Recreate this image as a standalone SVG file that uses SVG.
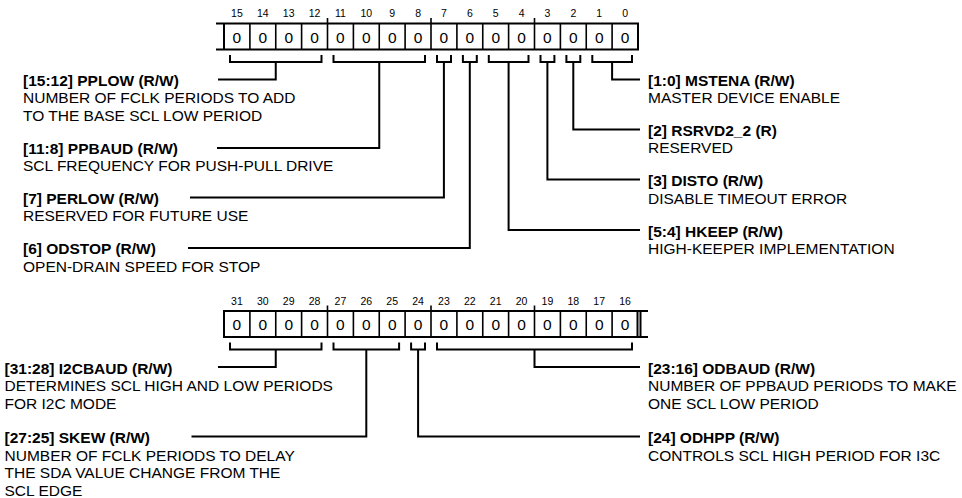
<svg xmlns="http://www.w3.org/2000/svg" width="962" height="498" viewBox="0 0 962 498">
<style>
text{font-family:"Liberation Sans",Arial,sans-serif;fill:#000}
.t{font-size:15.5px;font-weight:bold}
.d{font-size:15.5px}
.n{font-size:10.5px;text-anchor:middle}
.v{font-size:15.5px;text-anchor:middle}
.box{fill:none;stroke:#000;stroke-width:2}
.div{fill:none;stroke:#000;stroke-width:1.6}
.c{fill:none;stroke:#000;stroke-width:2}
</style>
<rect width="962" height="498" fill="#fff"/>

<g id="reg15_0">
<path class="box" d="M216,23.5H638V49.5H216M224,23.5V49.5M638,23.5V49.5"/>
<path class="div" d="M249.9,23.5V49.5M275.75,23.5V49.5M301.6,23.5V49.5M327.5,18V49.5M353.4,23.5V49.5M379.25,23.5V49.5M405.1,23.5V49.5M431,18V49.5M456.9,23.5V49.5M482.75,23.5V49.5M508.6,23.5V49.5M534.5,18V49.5M560.4,23.5V49.5M586.25,23.5V49.5M612.1,23.5V49.5"/>
<g class="n">
<text x="236.9" y="17">15</text><text x="262.8" y="17">14</text><text x="288.7" y="17">13</text><text x="314.6" y="17">12</text>
<text x="340.4" y="17">11</text><text x="366.3" y="17">10</text><text x="392.2" y="17">9</text><text x="418.1" y="17">8</text>
<text x="443.9" y="17">7</text><text x="469.8" y="17">6</text><text x="495.7" y="17">5</text><text x="521.6" y="17">4</text>
<text x="547.4" y="17">3</text><text x="573.3" y="17">2</text><text x="599.2" y="17">1</text><text x="625.1" y="17">0</text>
</g>
<g class="v">
<text x="236.9" y="42.5">0</text><text x="262.8" y="42.5">0</text><text x="288.7" y="42.5">0</text><text x="314.6" y="42.5">0</text>
<text x="340.4" y="42.5">0</text><text x="366.3" y="42.5">0</text><text x="392.2" y="42.5">0</text><text x="418.1" y="42.5">0</text>
<text x="443.9" y="42.5">0</text><text x="469.8" y="42.5">0</text><text x="495.7" y="42.5">0</text><text x="521.6" y="42.5">0</text>
<text x="547.4" y="42.5">0</text><text x="573.3" y="42.5">0</text><text x="599.2" y="42.5">0</text><text x="625.1" y="42.5">0</text>
</g>
</g>

<g id="reg31_16">
<path class="box" d="M648,311H224V337H648M224,311V337M637.5,311V337M640.5,311V337"/>
<path class="div" d="M249.9,311V337M275.75,311V337M301.6,311V337M327.5,305.5V337M353.4,311V337M379.25,311V337M405.1,311V337M431,305.5V337M456.9,311V337M482.75,311V337M508.6,311V337M534.5,305.5V337M560.4,311V337M586.25,311V337M612.1,311V337"/>
<g class="n">
<text x="236.9" y="304.5">31</text><text x="262.8" y="304.5">30</text><text x="288.7" y="304.5">29</text><text x="314.6" y="304.5">28</text>
<text x="340.4" y="304.5">27</text><text x="366.3" y="304.5">26</text><text x="392.2" y="304.5">25</text><text x="418.1" y="304.5">24</text>
<text x="443.9" y="304.5">23</text><text x="469.8" y="304.5">22</text><text x="495.7" y="304.5">21</text><text x="521.6" y="304.5">20</text>
<text x="547.4" y="304.5">19</text><text x="573.3" y="304.5">18</text><text x="599.2" y="304.5">17</text><text x="625.1" y="304.5">16</text>
</g>
<g class="v">
<text x="236.9" y="330">0</text><text x="262.8" y="330">0</text><text x="288.7" y="330">0</text><text x="314.6" y="330">0</text>
<text x="340.4" y="330">0</text><text x="366.3" y="330">0</text><text x="392.2" y="330">0</text><text x="418.1" y="330">0</text>
<text x="443.9" y="330">0</text><text x="469.8" y="330">0</text><text x="495.7" y="330">0</text><text x="521.6" y="330">0</text>
<text x="547.4" y="330">0</text><text x="573.3" y="330">0</text><text x="599.2" y="330">0</text><text x="625.1" y="330">0</text>
</g>
</g>

<g id="connectors">
<path class="c" d="M230,55V62H321.5V55M275.75,62V79.5H218"/>
<path class="c" d="M333.5,55V62H425V55M379.25,62V148H217"/>
<path class="c" d="M437,55V62H451V55M443.9,62V197.5H190"/>
<path class="c" d="M462.9,55V62H476.8V55M469.8,62V248H188"/>
<path class="c" d="M488.8,55V62H528.5V55M508.6,62V230H640"/>
<path class="c" d="M540.5,55V62H554.4V55M547.4,62V179.5H640"/>
<path class="c" d="M566.4,55V62H580.3V55M573.3,62V129.5H640"/>
<path class="c" d="M592.3,55V62H632V55M612.1,62V79.5H640"/>
<path class="c" d="M230,342.5V349.5H321.5V342.5M275.75,349.5V367H218"/>
<path class="c" d="M333.5,342.5V349.5H399.1V342.5M366.3,349.5V436.5H191.5"/>
<path class="c" d="M411.1,342.5V349.5H425V342.5M418.1,349.5V436.5H640"/>
<path class="c" d="M437,342.5V349.5H632V342.5M534.5,349.5V367H640"/>
</g>

<g id="f_pplow"><text class="t" x="23" y="85.5">[15:12] PPLOW (R/W)</text><text class="d" x="23" y="103">NUMBER OF FCLK PERIODS TO ADD</text><text class="d" x="23" y="120.5">TO THE BASE SCL LOW PERIOD</text></g>
<g id="f_ppbaud"><text class="t" x="23" y="153.5">[11:8] PPBAUD (R/W)</text><text class="d" x="23" y="171">SCL FREQUENCY FOR PUSH-PULL DRIVE</text></g>
<g id="f_perlow"><text class="t" x="23" y="203.5">[7] PERLOW (R/W)</text><text class="d" x="23" y="221">RESERVED FOR FUTURE USE</text></g>
<g id="f_odstop"><text class="t" x="23" y="254">[6] ODSTOP (R/W)</text><text class="d" x="23" y="271.5">OPEN-DRAIN SPEED FOR STOP</text></g>
<g id="f_mstena"><text class="t" x="648" y="85.5">[1:0] MSTENA (R/W)</text><text class="d" x="648" y="103">MASTER DEVICE ENABLE</text></g>
<g id="f_rsrvd"><text class="t" x="648" y="135.5">[2] RSRVD2_2 (R)</text><text class="d" x="648" y="153">RESERVED</text></g>
<g id="f_disto"><text class="t" x="648" y="186">[3] DISTO (R/W)</text><text class="d" x="648" y="203.5">DISABLE TIMEOUT ERROR</text></g>
<g id="f_hkeep"><text class="t" x="648" y="236.5">[5:4] HKEEP (R/W)</text><text class="d" x="648" y="254">HIGH-KEEPER IMPLEMENTATION</text></g>
<g id="f_i2cbaud"><text class="t" x="4.5" y="373.5">[31:28] I2CBAUD (R/W)</text><text class="d" x="4.5" y="391">DETERMINES SCL HIGH AND LOW PERIODS</text><text class="d" x="4.5" y="408.5">FOR I2C MODE</text></g>
<g id="f_skew"><text class="t" x="4.5" y="443">[27:25] SKEW (R/W)</text><text class="d" x="4.5" y="460.5">NUMBER OF FCLK PERIODS TO DELAY</text><text class="d" x="4.5" y="478">THE SDA VALUE CHANGE FROM THE</text><text class="d" x="4.5" y="495.5">SCL EDGE</text></g>
<g id="f_odbaud"><text class="t" x="648" y="373.5">[23:16] ODBAUD (R/W)</text><text class="d" x="648" y="391">NUMBER OF PPBAUD PERIODS TO MAKE</text><text class="d" x="648" y="408.5">ONE SCL LOW PERIOD</text></g>
<g id="f_odhpp"><text class="t" x="648" y="443">[24] ODHPP (R/W)</text><text class="d" x="648" y="460.5">CONTROLS SCL HIGH PERIOD FOR I3C</text></g>
</svg>
